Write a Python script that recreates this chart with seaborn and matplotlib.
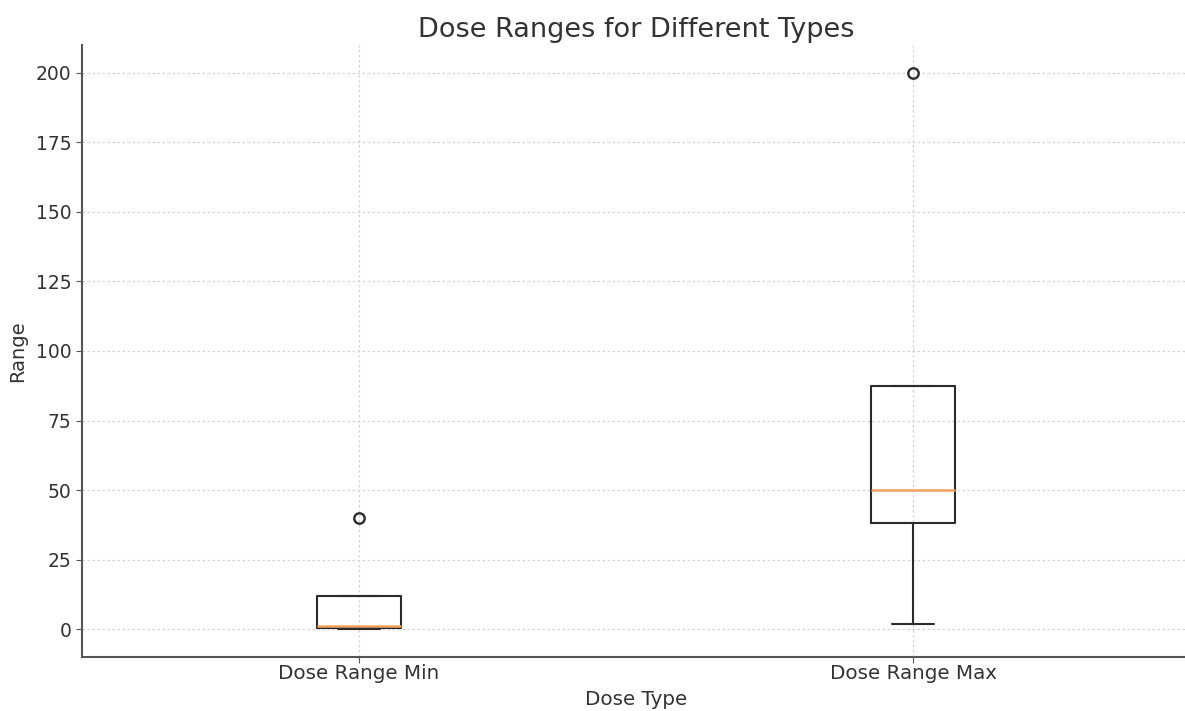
import matplotlib
matplotlib.use("Agg")
import matplotlib.pyplot as plt
import pandas as pd
import seaborn as sns

# Dose values per type
dose_types = ["Dose Range Min", "Dose Range Max"]
dose_min = [0, 0.5, 1, 12, 40]
dose_max = [2, 38, 50, 87.5, 200]

df = pd.DataFrame({
    "Dose Type": [dose_types[0]] * len(dose_min) + [dose_types[1]] * len(dose_max),
    "Range": dose_min + dose_max,
})

sns.set_style("ticks")
plt.rcParams["font.family"] = ["DejaVu Sans"]
text_color = "#333333"
line_color = "#2b2b2b"

fig = plt.figure(figsize=(11.85, 7.11), dpi=100)
ax = fig.add_axes([82 / 1185, (711 - 657) / 711, (1190 - 82) / 1185, (657 - 45) / 711])

sns.boxplot(
    data=df, x="Dose Type", y="Range", order=dose_types, ax=ax,
    width=0.15, fill=False, color=line_color, linewidth=1.5, whis=1.5,
    medianprops={"color": "#f4a261", "linewidth": 1.8},
    flierprops={"marker": "o", "markersize": 7.5, "markerfacecolor": "none",
                "markeredgecolor": line_color, "markeredgewidth": 1.7},
)

ax.set_xlim(-0.5, 1.5)
ax.set_ylim(-10, 210)
ax.set_yticks([0, 25, 50, 75, 100, 125, 150, 175, 200])
ax.grid(True, linestyle=(0, (2, 2)), color="#d4d4d4", linewidth=0.9)
ax.set_axisbelow(True)
for s in ["top", "right"]:
    ax.spines[s].set_visible(False)
for s in ["left", "bottom"]:
    ax.spines[s].set_color("#555555")
    ax.spines[s].set_linewidth(1.5)
ax.tick_params(colors="#555555", labelcolor=text_color, length=4)
ax.tick_params(axis="x", labelsize=14.3, pad=1)
ax.tick_params(axis="y", labelsize=13.5)
ax.set_title("Dose Ranges for Different Types", fontsize=19.5, color=text_color, pad=6)
ax.set_xlabel("Dose Type", fontsize=14.3, color=text_color, labelpad=5)
ax.set_ylabel("Range", fontsize=14, color=text_color, labelpad=6)

fig.savefig("out.png", dpi=100)
